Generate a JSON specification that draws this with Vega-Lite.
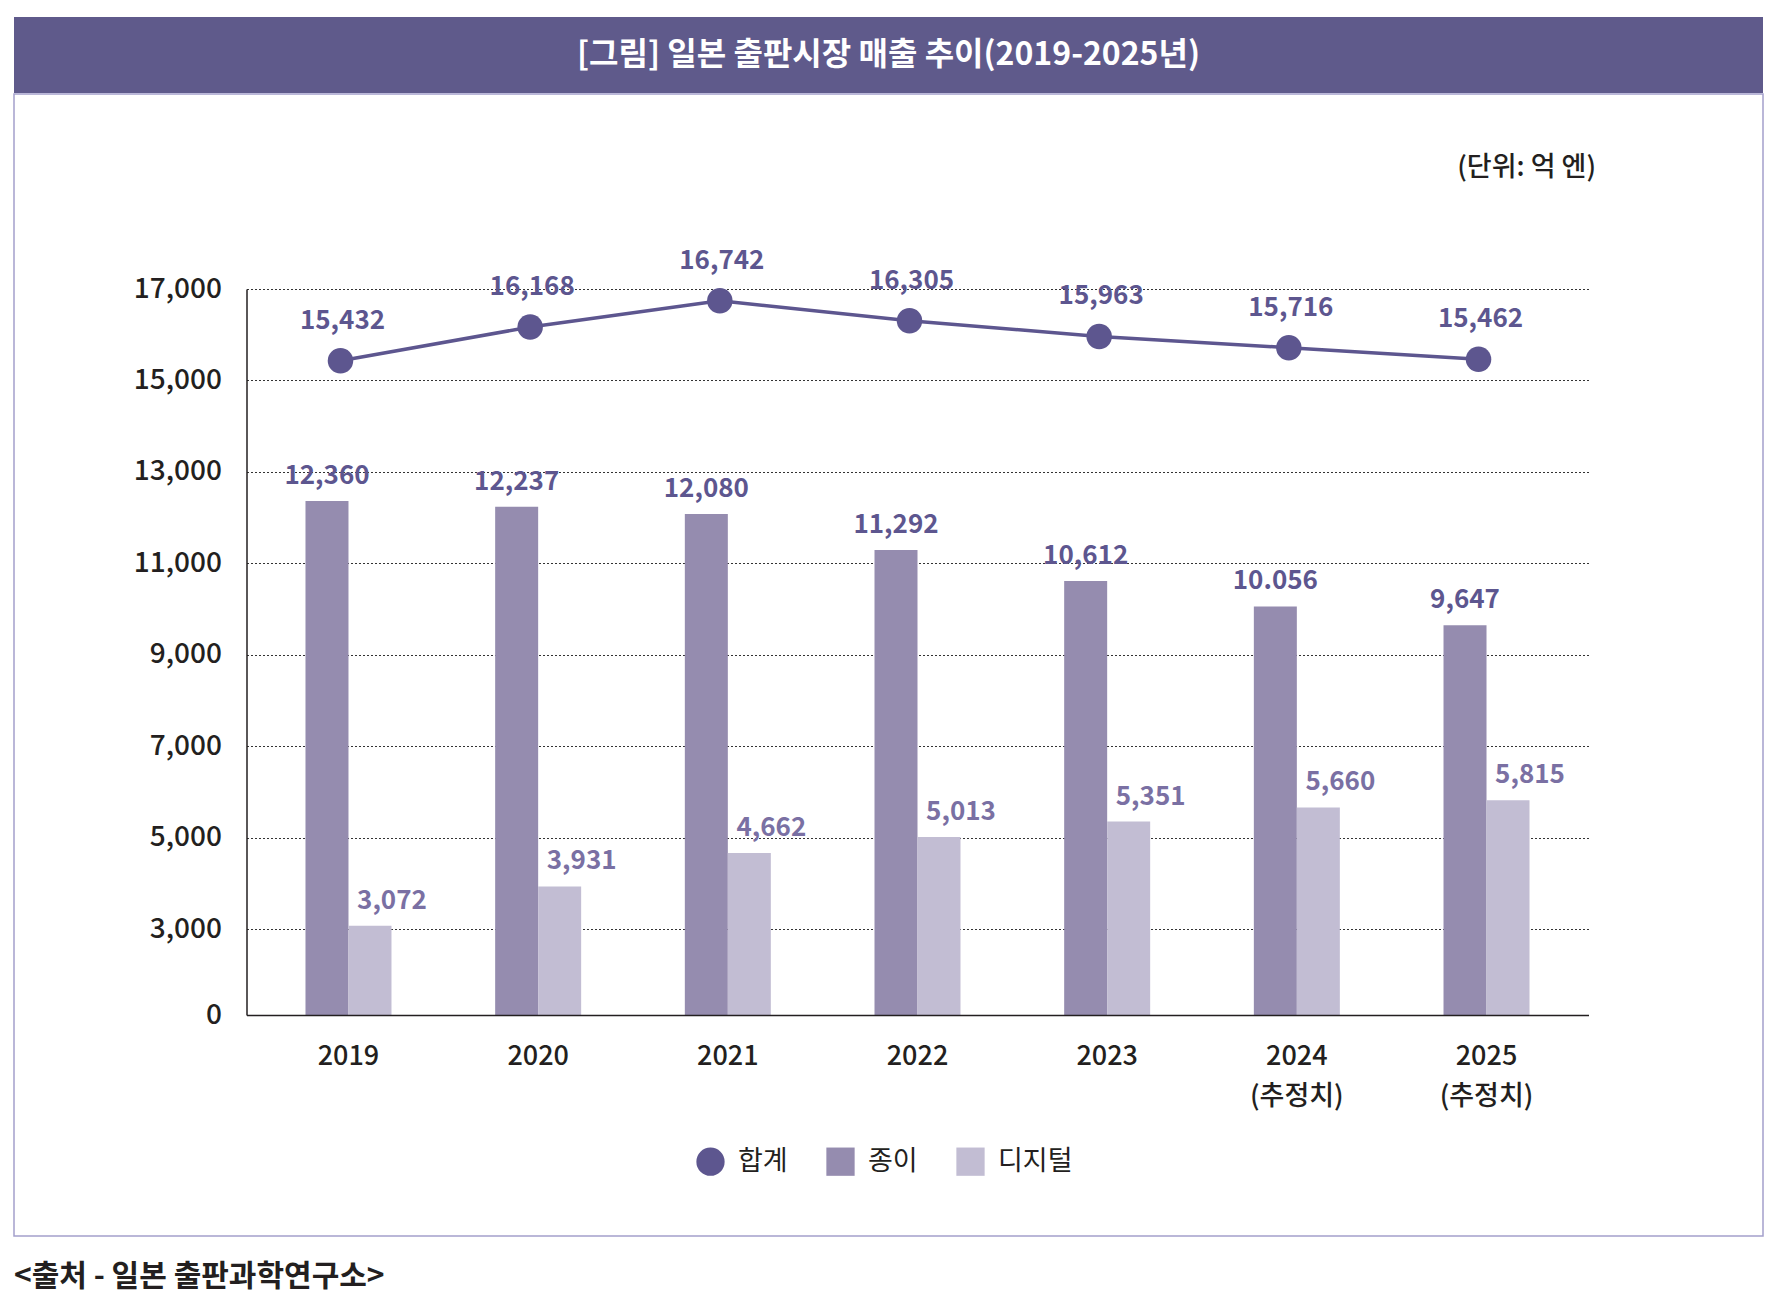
{
  "$schema": "https://vega.github.io/schema/vega-lite/v6.json",
  "padding": {"left": 13, "top": 17, "right": 14, "bottom": 6},
  "background": "white",
  "config": {
    "font": "Noto Sans CJK KR",
    "concat": {"spacing": 0}
  },
  "title": {
    "text": "<출처 - 일본 출판과학연구소>",
    "orient": "bottom",
    "anchor": "start",
    "frame": "group",
    "offset": 25,
    "fontSize": 30,
    "fontWeight": "bold",
    "color": "#231f20"
  },
  "datasets": {
    "sales": [
      {"year": "2019", "series": "합계", "value": 15432, "label": "15,432"},
      {"year": "2020", "series": "합계", "value": 16168, "label": "16,168"},
      {"year": "2021", "series": "합계", "value": 16742, "label": "16,742"},
      {"year": "2022", "series": "합계", "value": 16305, "label": "16,305"},
      {"year": "2023", "series": "합계", "value": 15963, "label": "15,963"},
      {"year": "2024", "series": "합계", "value": 15716, "label": "15,716"},
      {"year": "2025", "series": "합계", "value": 15462, "label": "15,462"},
      {"year": "2019", "series": "종이", "value": 12360, "label": "12,360"},
      {"year": "2020", "series": "종이", "value": 12237, "label": "12,237"},
      {"year": "2021", "series": "종이", "value": 12080, "label": "12,080"},
      {"year": "2022", "series": "종이", "value": 11292, "label": "11,292"},
      {"year": "2023", "series": "종이", "value": 10612, "label": "10,612"},
      {"year": "2024", "series": "종이", "value": 10056, "label": "10.056"},
      {"year": "2025", "series": "종이", "value": 9647, "label": "9,647"},
      {"year": "2019", "series": "디지털", "value": 3072, "label": "3,072"},
      {"year": "2020", "series": "디지털", "value": 3931, "label": "3,931"},
      {"year": "2021", "series": "디지털", "value": 4662, "label": "4,662"},
      {"year": "2022", "series": "디지털", "value": 5013, "label": "5,013"},
      {"year": "2023", "series": "디지털", "value": 5351, "label": "5,351"},
      {"year": "2024", "series": "디지털", "value": 5660, "label": "5,660"},
      {"year": "2025", "series": "디지털", "value": 5815, "label": "5,815"}
    ]
  },
  "spacing": 0,
  "vconcat": [
    {
      "width": 1749,
      "height": 76,
      "view": {"fill": "#5f5a8b", "stroke": null},
      "data": {"values": [{"title": "[그림] 일본 출판시장 매출 추이(2019-2025년)"}]},
      "mark": {"type": "text", "color": "white", "fontSize": 32, "fontWeight": "bold", "baseline": "middle"},
      "encoding": {"text": {"field": "title"}}
    },
    {
      "width": 1749,
      "height": 1142,
      "view": {"fill": "white", "stroke": "#a4a0cc", "strokeWidth": 1.5},
      "data": {"name": "sales"},
      "encoding": {
        "x": {
          "field": "year",
          "type": "nominal",
          "scale": {"type": "band", "range": [232.5, 1574.5], "paddingInner": 0.5466, "paddingOuter": 0.311},
          "axis": {
            "title": null,
            "labelAngle": 0,
            "labelFontSize": 27,
            "labelFontWeight": 500,
            "labelColor": "#231f20",
            "labelPadding": 28,
            "labelLineHeight": 40,
            "labelExpr": "datum.value >= '2024' ? [datum.label, '(추정치)'] : datum.label",
            "ticks": false,
            "grid": false,
            "domainColor": "#231f20",
            "domainWidth": 1.5,
            "offset": -221,
            "zindex": 1
          }
        },
        "y": {
          "field": "value",
          "type": "quantitative",
          "scale": {"type": "linear", "domain": [0, 3000, 17000], "range": [921, 835, 195], "nice": false, "zero": false},
          "axis": {
            "title": "(단위: 억 엔)",
            "titleX": 1349,
            "titleY": 73,
            "titleAlign": "right",
            "titleBaseline": "middle",
            "titleAngle": 0,
            "titleFontSize": 27,
            "titleFontWeight": 500,
            "titleColor": "#231f20",
            "values": [0, 3000, 5000, 7000, 9000, 11000, 13000, 15000, 17000],
            "labelExpr": "format(datum.value, ',')",
            "labelFontSize": 28,
            "labelFontWeight": 500,
            "labelColor": "#231f20",
            "labelPadding": 25,
            "ticks": false,
            "domainColor": "#231f20",
            "domainWidth": 1.5,
            "gridColor": "#333333",
            "gridDash": [2, 2],
            "gridWidth": 1,
            "offset": -232.5
          }
        }
      },
      "layer": [
        {
          "transform": [{"filter": "datum.series !== '합계'"}],
          "mark": {"type": "bar"},
          "encoding": {
            "xOffset": {"field": "series", "scale": {"domain": ["종이", "디지털"]}},
            "color": {
              "field": "series",
              "scale": {"domain": ["합계", "종이", "디지털"], "range": ["#5d568f", "#958caf", "#c2bdd3"]},
              "legend": {"orient": "none", "legendX": 682, "legendY": 1130, "direction": "horizontal", "title": null, "symbolSize": 800, "labelFontSize": 27, "labelFontWeight": "normal", "labelColor": "#231f20", "labelOffset": 13, "columnPadding": 38, "symbolStrokeWidth": 0, "symbolOpacity": 1, "padding": 0}
            }
          }
        },
        {
          "transform": [{"filter": "datum.series === '종이'"}],
          "mark": {"type": "text", "baseline": "middle", "dy": -25, "fontSize": 26, "fontWeight": "bold", "color": "#5d568f"},
          "encoding": {"xOffset": {"field": "series"}, "text": {"field": "label"}}
        },
        {
          "transform": [{"filter": "datum.series === '디지털'"}],
          "mark": {"type": "text", "baseline": "middle", "dy": -25, "dx": 22, "fontSize": 26, "fontWeight": "bold", "color": "#7a70a3"},
          "encoding": {"xOffset": {"field": "series"}, "text": {"field": "label"}}
        },
        {
          "transform": [{"filter": "datum.series === '합계'"}],
          "mark": {"type": "line", "color": "#5d568f", "strokeWidth": 3.5, "xOffset": -8},
          "encoding": {}
        },
        {
          "transform": [{"filter": "datum.series === '합계'"}],
          "mark": {"type": "point", "filled": true, "size": 650, "opacity": 1, "xOffset": -8},
          "encoding": {
            "color": {
              "field": "series",
              "scale": {"domain": ["합계", "종이", "디지털"], "range": ["#5d568f", "#958caf", "#c2bdd3"]},
              "legend": {"orient": "none", "legendX": 682, "legendY": 1130, "direction": "horizontal", "title": null, "symbolSize": 800, "labelFontSize": 27, "labelFontWeight": "normal", "labelColor": "#231f20", "labelOffset": 13, "columnPadding": 38, "symbolStrokeWidth": 0, "symbolOpacity": 1, "padding": 0}
            },
            "shape": {
              "field": "series",
              "scale": {"domain": ["합계", "종이", "디지털"], "range": ["circle", "square", "square"]},
              "legend": {"orient": "none", "legendX": 682, "legendY": 1130, "direction": "horizontal", "title": null, "symbolSize": 800, "labelFontSize": 27, "labelFontWeight": "normal", "labelColor": "#231f20", "labelOffset": 13, "columnPadding": 38, "symbolStrokeWidth": 0, "symbolOpacity": 1, "padding": 0}
            }
          }
        },
        {
          "transform": [{"filter": "datum.series === '합계'"}],
          "mark": {"type": "text", "baseline": "middle", "dy": -40, "xOffset": -6, "fontSize": 26, "fontWeight": "bold", "color": "#5d568f"},
          "encoding": {"text": {"field": "label"}}
        }
      ]
    }
  ]
}
